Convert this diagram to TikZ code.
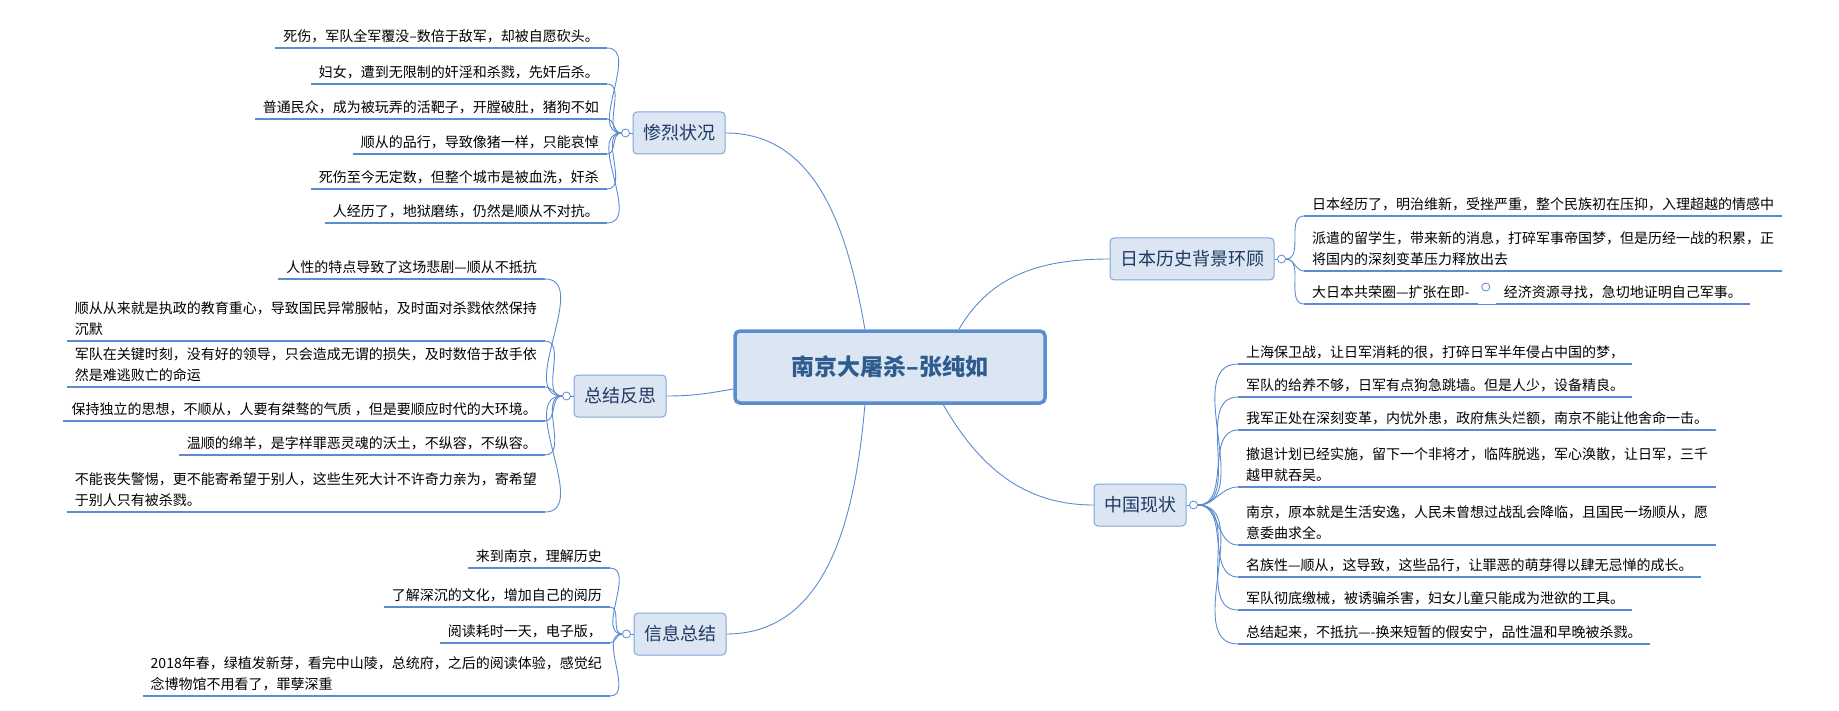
\documentclass[tikz,border=0pt]{standalone}
\usepackage{fontspec}
\setmainfont{Noto Sans CJK SC}
\usetikzlibrary{calc}
\definecolor{lineblue}{HTML}{5B8BD0}
\definecolor{boxfill}{HTML}{DCE6F2}
\definecolor{boxdraw}{HTML}{7FA5DA}
\definecolor{titletext}{HTML}{2F5C8F}
\definecolor{branchtext}{HTML}{1F3864}
\tikzset{
  topic/.style={draw=lineblue, line width=3.5pt, fill=boxfill, rounded corners=5pt,
    minimum width=310pt, minimum height=72pt, text=titletext, font=\fontsize{23}{27}\selectfont\bfseries},
  branch/.style={draw=boxdraw, line width=1pt, fill=boxfill, rounded corners=4pt,
    minimum height=42pt, inner xsep=10pt, text=branchtext, font=\fontsize{18}{22}\selectfont},
  leafL/.style={anchor=south east, inner xsep=8pt, inner ysep=5pt, align=left,
    font=\fontsize{14}{21}\selectfont},
  leafR/.style={anchor=south west, inner xsep=8pt, inner ysep=5pt, align=left,
    font=\fontsize{14}{21}\selectfont},
  uline/.style={draw=lineblue, line width=2.6pt},
  link/.style={draw=lineblue, line width=0.9pt},
  knob/.style={circle, draw=lineblue, fill=white, line width=0.8pt, inner sep=0pt, minimum size=8pt}
}
\begin{document}
\begin{tikzpicture}[x=1pt, y=-1pt]
\useasboundingbox (0,0) rectangle (1839,711);
% centre and main topics
\node[topic] (c) at (890,367) {南京大屠杀--张纯如};
\node[branch] (b1) at (679,133) {惨烈状况};
\node[branch] (b2) at (620,396) {总结反思};
\node[branch] (b3) at (680,634) {信息总结};
\node[branch] (b4) at (1192,259) {日本历史背景环顾};
\node[branch] (b5) at (1140,505) {中国现状};
\draw[link] (b1.east) to[out=0, in=100] ($(c.north west)!0.42!(c.north east)$);
\draw[link] (b2.east) to[out=0, in=190] ($(c.west)+(0,22)$);
\draw[link] (b3.east) to[out=0, in=-95] ($(c.south west)!0.42!(c.south east)$);
\draw[link] (b4.west) to[out=180, in=60] ($(c.north west)!0.72!(c.north east)$);
\draw[link] (b5.west) to[out=180, in=-60] ($(c.south west)!0.67!(c.south east)$);
% knobs
\node[knob] (k1) at ($(b1.west)+(-7,0)$) {};
\node[knob] (k2) at ($(b2.west)+(-7,0)$) {};
\node[knob] (k3) at ($(b3.west)+(-7,0)$) {};
\node[knob] (k4) at ($(b4.east)+(7,0)$) {};
\node[knob] (k5) at ($(b5.east)+(7,0)$) {};
% 惨烈状况
\node[leafL] (l1) at (607,48) {死伤，军队全军覆没--数倍于敌军，却被自愿砍头。};
\node[leafL] (l2) at (607,84) {妇女，遭到无限制的奸淫和杀戮，先奸后杀。};
\node[leafL] (l3) at (607,119) {普通民众，成为被玩弄的活靶子，开膛破肚，猪狗不如};
\node[leafL] (l4) at (607,154) {顺从的品行，导致像猪一样，只能哀悼};
\node[leafL] (l5) at (607,189) {死伤至今无定数，但整个城市是被血洗，奸杀};
\node[leafL] (l6) at (607,223) {人经历了，地狱磨练，仍然是顺从不对抗。};
% 总结反思
\node[leafL] (s1) at (545,279) {人性的特点导致了这场悲剧---顺从不抵抗};
\node[leafL] (s2) at (545,341) {顺从从来就是执政的教育重心，导致国民异常服帖，及时面对杀戮依然保持\\沉默};
\node[leafL] (s3) at (545,387) {军队在关键时刻，没有好的领导，只会造成无谓的损失，及时数倍于敌手依\\然是难逃败亡的命运};
\node[leafL] (s4) at (545,421) {保持独立的思想，不顺从，人要有桀骜的气质 ，但是要顺应时代的大环境。};
\node[leafL] (s5) at (545,455) {温顺的绵羊，是字样罪恶灵魂的沃土，不纵容，不纵容。};
\node[leafL] (s6) at (545,512) {不能丧失警惕，更不能寄希望于别人，这些生死大计不许奇力亲为，寄希望\\于别人只有被杀戮。};
% 信息总结
\node[leafL] (m1) at (610,568) {来到南京，理解历史};
\node[leafL] (m2) at (610,607) {了解深沉的文化，增加自己的阅历};
\node[leafL] (m3) at (610,643) {阅读耗时一天，电子版，};
\node[leafL] (m4) at (610,696) {2018年春，绿植发新芽，看完中山陵，总统府，之后的阅读体验，感觉纪\\念博物馆不用看了，罪孽深重};
% 日本历史背景环顾
\node[leafR] (j1) at (1304,216) {日本经历了，明治维新，受挫严重，整个民族初在压抑，入理超越的情感中};
\node[leafR] (j2) at (1304,271) {派遣的留学生，带来新的消息，打碎军事帝国梦，但是历经一战的积累，正\\将国内的深刻变革压力释放出去};
\node[leafR] (j3) at (1304,304) {大日本共荣圈---扩张在即-};
\node[knob] (k6) at ($(j3.south east)+(8,-17)$) {};
\node[leafR] (j4) at ($(j3.south east)+(18,0)$) {经济资源寻找，急切地证明自己军事。};
% 中国现状
\node[leafR] (z1) at (1238,364) {上海保卫战，让日军消耗的很，打碎日军半年侵占中国的梦，};
\node[leafR] (z2) at (1238,397) {军队的给养不够，日军有点狗急跳墙。但是人少，设备精良。};
\node[leafR] (z3) at (1238,430) {我军正处在深刻变革，内忧外患，政府焦头烂额，南京不能让他舍命一击。};
\node[leafR] (z4) at (1238,487) {撤退计划已经实施，留下一个非将才，临阵脱逃，军心涣散，让日军，三千\\越甲就吞吴。};
\node[leafR] (z5) at (1238,545) {南京，原本就是生活安逸，人民未曾想过战乱会降临，且国民一场顺从，愿\\意委曲求全。};
\node[leafR] (z6) at (1238,577) {名族性---顺从，这导致，这些品行，让罪恶的萌芽得以肆无忌惮的成长。};
\node[leafR] (z7) at (1238,610) {军队彻底缴械，被诱骗杀害，妇女儿童只能成为泄欲的工具。};
\node[leafR] (z8) at (1238,644) {总结起来，不抵抗----换来短暂的假安宁，品性温和早晚被杀戮。};
% underlines and links
\foreach \n in {l1,l2,l3,l4,l5,l6,s1,s2,s3,s4,s5,s6,m1,m2,m3,m4,j1,j2,j3,j4,z1,z2,z3,z4,z5,z6,z7,z8}
  \draw[uline] (\n.south west) -- (\n.south east);
\foreach \n in {l1,l2,l3,l4,l5,l6}
  \draw[link] (k1.west) to[out=180, in=0] (\n.south east);
\foreach \n in {s1,s2,s3,s4,s5,s6}
  \draw[link] (k2.west) to[out=180, in=0] (\n.south east);
\foreach \n in {m1,m2,m3,m4}
  \draw[link] (k3.west) to[out=180, in=0] (\n.south east);
\foreach \n in {j1,j2,j3}
  \draw[link] (k4.east) to[out=0, in=180] (\n.south west);
\foreach \n in {z1,z2,z3,z4,z5,z6,z7,z8}
  \draw[link] (k5.east) to[out=0, in=180] (\n.south west);
\draw[link] (j3.south east) -- (j4.south west);
\draw[link] (b1.west) -- (k1.east);
\draw[link] (b2.west) -- (k2.east);
\draw[link] (b3.west) -- (k3.east);
\draw[link] (b4.east) -- (k4.west);
\draw[link] (b5.east) -- (k5.west);
\end{tikzpicture}
\end{document}
